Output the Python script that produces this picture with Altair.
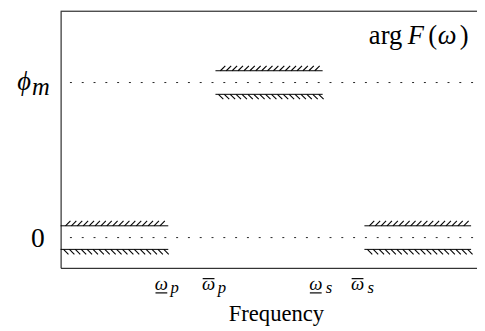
import altair as alt
import pandas as pd
import numpy as np

# ---- values (normalized units) ----
tick_values = [1.095, 1.575, 2.665, 3.09]      # omega_p_lo, omega_p_hi, omega_s_lo, omega_s_hi
tick_subs = ["p", "p", "s", "s"]
under_ticks = [1.095, 2.665]
over_ticks = [1.575, 3.09]

seg_start = [0.0, 1.575, 3.09]
seg_end = [1.095, 2.665, 4.175]
seg_level = [0.0, 1.0, 0.0]                    # 0 and phi_m
delta = 0.076                                  # tolerance band half-width

ref_levels = [0.0, 1.0]
X_DOMAIN = [0, 4.235]
Y_DOMAIN = [-0.195, 1.46]
W, H = 423.5, 261
FONT = "Liberation Serif"

xs = alt.Scale(domain=X_DOMAIN, nice=False, zero=False)
ys = alt.Scale(domain=Y_DOMAIN, nice=False, zero=False)

rows = []
for s, e, lv in zip(seg_start, seg_end, seg_level):
    rows.append({"x": s, "x2": e, "y": lv + delta})
    rows.append({"x": s, "x2": e, "y": lv - delta})
bounds = pd.DataFrame(rows)

hu, hl = [], []
for s, e, lv in zip(seg_start, seg_end, seg_level):
    for x in np.arange(s + 0.05, e - 0.045, 0.06):
        hu.append({"x": x, "y": lv + delta})
    for x in np.arange(s + 0.03, e + 0.001, 0.06):
        hl.append({"x": x, "y": lv - delta})
hatch_up = pd.DataFrame(hu)
hatch_lo = pd.DataFrame(hl)

refs = pd.DataFrame({"y": ref_levels})
ticks = pd.DataFrame({"x": tick_values, "sub": tick_subs})
ticks_under = pd.DataFrame({"x": under_ticks})
ticks_over = pd.DataFrame({"x": over_ticks})

base_axes = alt.Chart(pd.DataFrame({"x": [X_DOMAIN[0]], "y": [Y_DOMAIN[0]]})).mark_point(opacity=0).encode(
    x=alt.X("x:Q", scale=xs, axis=alt.Axis(domain=True, domainColor="black", domainWidth=1,
                                            labels=False, ticks=False, grid=False, title=None)),
    y=alt.Y("y:Q", scale=ys, axis=alt.Axis(domain=True, domainColor="black", domainWidth=1,
                                            labels=False, ticks=False, grid=False, title=None)),
)

top_border = alt.Chart(pd.DataFrame({"y": [Y_DOMAIN[1]]})).mark_rule(color="black", strokeWidth=1).encode(
    y=alt.Y("y:Q", scale=ys))

dotted = alt.Chart(refs).mark_rule(color="#222", strokeWidth=1, strokeDash=[2, 10], strokeDashOffset=-4).encode(
    y=alt.Y("y:Q", scale=ys))

lines = alt.Chart(bounds).mark_rule(color="black", strokeWidth=1).encode(
    x=alt.X("x:Q", scale=xs), x2="x2:Q", y=alt.Y("y:Q", scale=ys))

h_up = alt.Chart(hatch_up).mark_point(shape="M-1,1L1,-1", size=25, filled=False, opacity=1,
                                       color="black", strokeWidth=1.1, xOffset=2.5, yOffset=-2.5).encode(
    x=alt.X("x:Q", scale=xs), y=alt.Y("y:Q", scale=ys))
h_lo = alt.Chart(hatch_lo).mark_point(shape="M-1,-1L1,1", size=25, filled=False, opacity=1,
                                       color="black", strokeWidth=1.1, xOffset=2.5, yOffset=2.5).encode(
    x=alt.X("x:Q", scale=xs), y=alt.Y("y:Q", scale=ys))

# x tick labels (omega with under/over bar and subscript)
om = alt.Chart(ticks).mark_text(text="ω", font=FONT, fontStyle="italic", fontSize=19, align="center",
                                baseline="alphabetic", dx=-7).encode(
    x=alt.X("x:Q", scale=xs), y=alt.value(283.5))
sub = alt.Chart(ticks).mark_text(font=FONT, fontStyle="italic", fontSize=17, align="center",
                                 baseline="alphabetic", dx=6.5).encode(
    x=alt.X("x:Q", scale=xs), y=alt.value(286.5), text="sub:N")
under = alt.Chart(ticks_under).mark_rule(color="black", strokeWidth=1.2, xOffset=-13, x2Offset=-1).encode(
    x=alt.X("x:Q", scale=xs), x2="x:Q", y=alt.value(286.5))
over = alt.Chart(ticks_over).mark_rule(color="black", strokeWidth=1.2, xOffset=-13, x2Offset=-1).encode(
    x=alt.X("x:Q", scale=xs), x2="x:Q", y=alt.value(272))

# y labels
zero_lbl = alt.Chart(pd.DataFrame({"y": [0.0]})).mark_text(text="0", font=FONT, fontSize=28, align="right",
                                                            baseline="middle", dy=2).encode(
    x=alt.value(-16), y=alt.Y("y:Q", scale=ys))
phi_lbl = alt.Chart(pd.DataFrame({"y": [1.0]})).mark_text(text="ϕ", font=FONT, fontStyle="italic", fontSize=27,
                                                           align="right", baseline="middle", dy=0).encode(
    x=alt.value(-30), y=alt.Y("y:Q", scale=ys))
m_lbl = alt.Chart(pd.DataFrame({"y": [1.0]})).mark_text(text="m", font=FONT, fontStyle="italic", fontSize=25,
                                                         align="right", baseline="middle", dy=5).encode(
    x=alt.value(-11), y=alt.Y("y:Q", scale=ys))

freq = alt.Chart(pd.DataFrame({"t": ["Frequency"]})).mark_text(font=FONT, fontSize=23, align="center",
                                                                baseline="alphabetic").encode(
    x=alt.value(219.5), y=alt.value(314.8), text="t:N")

def piece(txt, xpos, italic, align="left"):
    kw = dict(font=FONT, fontSize=27, align=align, baseline="alphabetic", text=txt)
    if italic:
        kw["fontStyle"] = "italic"
    return alt.Chart(pd.DataFrame({"a": [0]})).mark_text(**kw).encode(x=alt.value(xpos), y=alt.value(33.5))

title = [piece("arg", 347.5, False, "right"), piece("F", 353, True), piece("(", 374, False),
         piece("ω", 383.5, True), piece(")", 415, False, "right")]

chart = alt.layer(base_axes, top_border, dotted, lines, h_up, h_lo, om, sub, under, over,
                  zero_lbl, phi_lbl, m_lbl, freq, *title).properties(
    width=W, height=H,
    autosize=alt.AutoSizeParams(type="none"),
    padding={"left": 53.5, "top": 0.5, "right": 0, "bottom": 62},
).configure_view(stroke=None)

chart.save("out.html", embed_options={"renderer": "svg", "actions": False})
